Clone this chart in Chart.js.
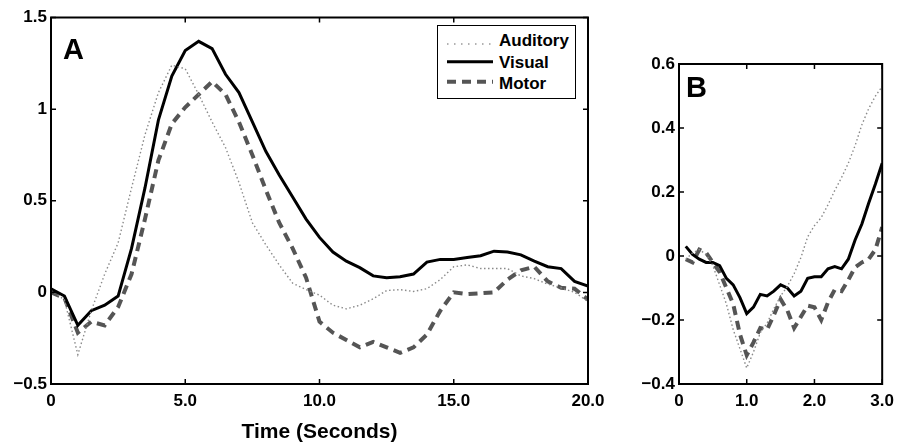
<!DOCTYPE html>
<html>
<head>
<meta charset="utf-8">
<script src="https://cdn.jsdelivr.net/npm/chart.js@4.4.1/dist/chart.umd.min.js"></script>
<style>
    body { margin: 0; background: #fff; }
    #wrap { position: relative; width: 901px; height: 445px; overflow: hidden; font-family: "Liberation Sans", Arial, sans-serif; }
    canvas { position: absolute; top: 0; }
    .lbl { position: absolute; font-weight: bold; color: #000; white-space: nowrap; }
</style>
</head>
<body>
<div id="wrap">
    <canvas id="chartA" width="620" height="445" style="left:0;width:620px;height:445px"></canvas>
    <canvas id="chartB" width="291" height="445" style="left:610px;width:291px;height:445px"></canvas>

    <div class="lbl" style="left:63px;top:35px;font-size:29px;line-height:29px">A</div>
    <div class="lbl" style="left:686px;top:73px;font-size:29px;line-height:29px">B</div>

    <div style="position:absolute;left:437px;top:25px;width:139px;height:74px;border:1.5px solid #000;box-sizing:border-box;background:#fff"></div>
    <svg style="position:absolute;left:437px;top:25px" width="139" height="74">
        <line x1="10" y1="19" x2="56" y2="19" stroke="#999" stroke-width="1.3" stroke-dasharray="1.5,5.5"/>
        <line x1="10" y1="36.7" x2="56" y2="36.7" stroke="#000" stroke-width="3"/>
        <line x1="10" y1="56.7" x2="56" y2="56.7" stroke="#555" stroke-width="4" stroke-dasharray="9,6"/>
    </svg>
    <div class="lbl" style="left:499px;top:32px;font-size:17px;line-height:17px">Auditory</div>
    <div class="lbl" style="left:499px;top:53.5px;font-size:17px;line-height:17px">Visual</div>
    <div class="lbl" style="left:499px;top:74.5px;font-size:17px;line-height:17px">Motor</div>
</div>
<script>
    // Panel A (0 - 20 s)
    var timeA = [0, 0.5, 1, 1.5, 2, 2.5, 3, 3.5, 4, 4.5, 5, 5.5, 6, 6.5, 7, 7.5, 8, 8.5, 9, 9.5,
        10, 10.5, 11, 11.5, 12, 12.5, 13, 13.5, 14, 14.5, 15, 15.5, 16, 16.5, 17, 17.5, 18, 18.5, 19, 19.5, 20];
    var auditoryA = [0.01, -0.04, -0.34, -0.10, 0.10, 0.27, 0.57, 0.86, 1.09, 1.24, 1.22, 1.08, 0.93, 0.79, 0.60, 0.38,
        0.26, 0.15, 0.05, 0.015, -0.015, -0.07, -0.09, -0.07, -0.035, 0.01, 0.015, 0.005, 0.02, 0.07, 0.14,
        0.15, 0.13, 0.13, 0.13, 0.09, 0.075, 0.045, 0.025, 0.0, -0.05];
    var visualA = [0.02, -0.02, -0.18, -0.10, -0.07, -0.02, 0.24, 0.57, 0.94, 1.18, 1.32, 1.37, 1.33, 1.19, 1.09, 0.93,
        0.77, 0.64, 0.52, 0.40, 0.30, 0.22, 0.17, 0.135, 0.09, 0.08, 0.085, 0.10, 0.165, 0.18, 0.18,
        0.19, 0.20, 0.225, 0.22, 0.205, 0.17, 0.14, 0.13, 0.06, 0.035];
    var motorA = [0.0, -0.03, -0.22, -0.16, -0.18, -0.08, 0.10, 0.40, 0.72, 0.92, 1.01, 1.08, 1.15, 1.08, 0.93, 0.75,
        0.56, 0.38, 0.24, 0.08, -0.16, -0.22, -0.26, -0.30, -0.27, -0.30, -0.33, -0.30, -0.23, -0.10, 0.0,
        -0.01, -0.005, 0.0, 0.07, 0.12, 0.14, 0.06, 0.025, 0.02, -0.04];

    // Panel B (first 3 s)
    var timeB = [0.1, 0.2, 0.3, 0.4, 0.5, 0.6, 0.7, 0.8, 0.9, 1.0, 1.1, 1.2, 1.3, 1.4, 1.5,
        1.6, 1.7, 1.8, 1.9, 2.0, 2.1, 2.2, 2.3, 2.4, 2.5, 2.6, 2.7, 2.8, 2.9, 3.0];
    var auditoryB = [-0.01, 0.01, 0.02, 0.005, -0.03, -0.09, -0.15, -0.23, -0.29, -0.35, -0.30, -0.24, -0.21, -0.165, -0.125,
        -0.095, -0.055, -0.005, 0.06, 0.095, 0.12, 0.16, 0.205, 0.245, 0.29, 0.345, 0.41, 0.46, 0.50, 0.53];
    var visualB = [0.03, 0.005, -0.01, -0.02, -0.02, -0.03, -0.07, -0.09, -0.13, -0.18, -0.16, -0.12, -0.125, -0.11, -0.09,
        -0.10, -0.125, -0.11, -0.07, -0.065, -0.065, -0.04, -0.033, -0.04, -0.01, 0.05, 0.10, 0.165, 0.225, 0.29];
    var motorB = [-0.01, -0.02, 0.02, 0.01, -0.02, -0.05, -0.10, -0.15, -0.245, -0.31, -0.27, -0.225, -0.23, -0.185, -0.135,
        -0.17, -0.225, -0.19, -0.155, -0.16, -0.20, -0.145, -0.105, -0.11, -0.075, -0.035, -0.02, -0.01, 0.02, 0.09];

    var FONT = "'Liberation Sans', Arial, sans-serif";

    function pts(xs, ys) {
        return xs.map(function (x, i) { return {x: x, y: ys[i]}; });
    }

    function makeSets(t, aud, vis, mot) {
        return [
            {label: 'Auditory', data: pts(t, aud), borderColor: '#8a8a8a', borderWidth: 1.4, borderDash: [1.5, 2.5]},
            {label: 'Visual', data: pts(t, vis), borderColor: '#000000', borderWidth: 3},
            {label: 'Motor', data: pts(t, mot), borderColor: '#555555', borderWidth: 4, borderDash: [9, 6]}
        ];
    }

    function fmt(v) {
        if (Math.abs(v) < 1e-9) return '0';
        var s = (Math.abs(v) % 1 === 0 && Math.abs(v) !== 0) ? String(Math.abs(v)) : Math.abs(v).toFixed(1);
        return (v < 0 ? '\u2212' : '') + s;
    }

    // box round the plot with MATLAB style inward ticks
    var boxPlugin = {
        id: 'box',
        afterDatasetsDraw: function (chart) {
            var c = chart.ctx, a = chart.chartArea;
            var xs = chart.scales.x, ys = chart.scales.y;
            c.save();
            c.strokeStyle = '#000';
            c.lineWidth = 1.5;
            xs.ticks.forEach(function (t) {
                var p = xs.getPixelForValue(t.value);
                c.beginPath();
                c.moveTo(p, a.bottom); c.lineTo(p, a.bottom - 5);
                c.moveTo(p, a.top); c.lineTo(p, a.top + 5);
                c.stroke();
            });
            ys.ticks.forEach(function (t) {
                var p = ys.getPixelForValue(t.value);
                c.beginPath();
                c.moveTo(a.left, p); c.lineTo(a.left + 5, p);
                c.moveTo(a.right, p); c.lineTo(a.right - 5, p);
                c.stroke();
            });
            c.lineWidth = 2;
            c.strokeRect(a.left, a.top, a.right - a.left, a.bottom - a.top);
            c.restore();
        }
    };

    function makeChart(id, sets, o) {
        return new Chart(document.getElementById(id), {
            type: 'line',
            data: {datasets: sets},
            plugins: [boxPlugin],
            options: {
                responsive: false,
                animation: false,
                events: [],
                elements: {point: {radius: 0}, line: {tension: 0}},
                layout: {padding: {top: o.top, right: o.right, left: 0, bottom: 0}},
                plugins: {legend: {display: false}, tooltip: {enabled: false}},
                scales: {
                    x: {
                        type: 'linear', min: o.xmin, max: o.xmax,
                        grid: {display: false, drawTicks: false},
                        border: {display: false},
                        ticks: {
                            stepSize: o.xstep, padding: 7, color: '#000', maxRotation: 0,
                            font: {family: FONT, size: 17, weight: 'bold'},
                            callback: function (v) { return Math.abs(v) < 1e-9 ? '0' : v.toFixed(1); }
                        },
                        title: {
                            display: !!o.xtitle, text: o.xtitle || '', color: '#000',
                            font: {family: FONT, size: 21, weight: 'bold'},
                            padding: {top: 0, bottom: 0}
                        },
                        afterFit: function (s) { s.height = 61; }
                    },
                    y: {
                        min: o.ymin, max: o.ymax,
                        grid: {display: false, drawTicks: false},
                        border: {display: false},
                        ticks: {
                            stepSize: o.ystep, padding: 4, color: '#000',
                            font: {family: FONT, size: 17, weight: 'bold'},
                            callback: fmt
                        },
                        afterFit: function (s) { s.width = o.yw; }
                    }
                }
            }
        });
    }

    makeChart('chartA', makeSets(timeA, auditoryA, visualA, motorA),
        {xmin: 0, xmax: 20, xstep: 5, ymin: -0.5, ymax: 1.5, ystep: 0.5, top: 17.5, right: 32, yw: 51, xtitle: 'Time (Seconds)'});
    makeChart('chartB', makeSets(timeB, auditoryB, visualB, motorB),
        {xmin: 0, xmax: 3, xstep: 1, ymin: -0.4, ymax: 0.6, ystep: 0.2, top: 64, right: 12.3, yw: 69});
</script>
</body>
</html>
